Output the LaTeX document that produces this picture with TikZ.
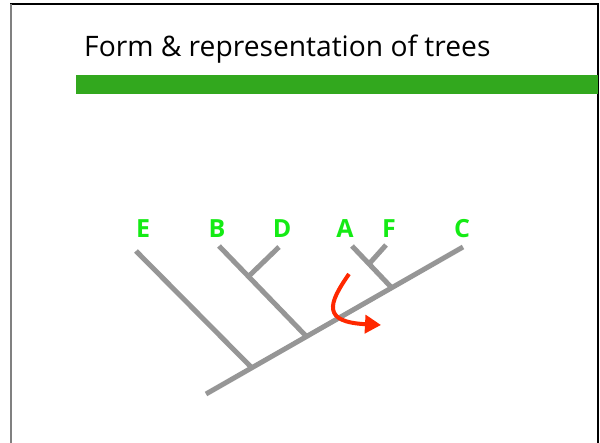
\documentclass[tikz,border=0pt]{standalone}
\usepackage{fontspec}
\setmainfont{Open Sans}
\usetikzlibrary{arrows.meta}
\definecolor{barGreen}{RGB}{50,168,30}
\definecolor{leafGreen}{RGB}{20,235,20}
\definecolor{branchGray}{RGB}{150,150,150}
\definecolor{arrowRed}{RGB}{255,40,0}
\tikzset{
  branch/.style={draw=branchGray, line width=5pt},
  leaf/.style={text=leafGreen, font=\fontsize{25}{25}\selectfont\bfseries, inner sep=0pt, anchor=base},
  move/.style={draw=arrowRed, line width=4pt, -{Triangle[length=16pt,width=18pt]}},
}
\begin{document}
\begin{tikzpicture}[x=1pt,y=-1pt]
  \useasboundingbox (0,0) rectangle (600,443);
  % slide frame
  \draw[black, line width=1.5pt] (10,4) -- (599,4);
  \draw[gray, line width=2pt] (11,4) -- (11,443);
  \draw[black, line width=2pt] (598,4) -- (598,443);
  % title and rule
  \node[anchor=base west, inner sep=0pt, font=\fontsize{28.2}{28}\selectfont] (title) at (84,57) {Form \& representation of trees};
  \fill[barGreen] (76,75) rectangle (598,94);

  % tree points
  \coordinate (root) at (206,394);
  \coordinate (C) at (463,247);
  \coordinate (nE) at (252,368);
  \coordinate (nBD) at (306,336);
  \coordinate (nAF) at (391,287);
  \coordinate (tE) at (136,251);
  \coordinate (tB) at (219,246);
  \coordinate (mBD) at (250,275);
  \coordinate (tD) at (279,247);
  \coordinate (tA) at (352,246);
  \coordinate (mAF) at (369,264);
  \coordinate (tF) at (386,245);

  % branches
  \draw[branch] (root) -- (C);
  \draw[branch] (nE) -- (tE);
  \draw[branch] (nBD) -- (tB);
  \draw[branch] (mBD) -- (tD);
  \draw[branch] (nAF) -- (tA);
  \draw[branch] (mAF) -- (tF);

  % leaf labels
  \node[leaf] (lE) at (143,238) {E};
  \node[leaf] (lB) at (217,238) {B};
  \node[leaf] (lD) at (282,238) {D};
  \node[leaf] (lA) at (345,238) {A};
  \node[leaf] (lF) at (389,238) {F};
  \node[leaf] (lC) at (462,238) {C};

  % rotation arrow
  \coordinate (s) at (349,274);
  \coordinate (e) at (381,325);
  \draw[move] (s) .. controls (328,304) and (322,322) .. (e);
\end{tikzpicture}
\end{document}
